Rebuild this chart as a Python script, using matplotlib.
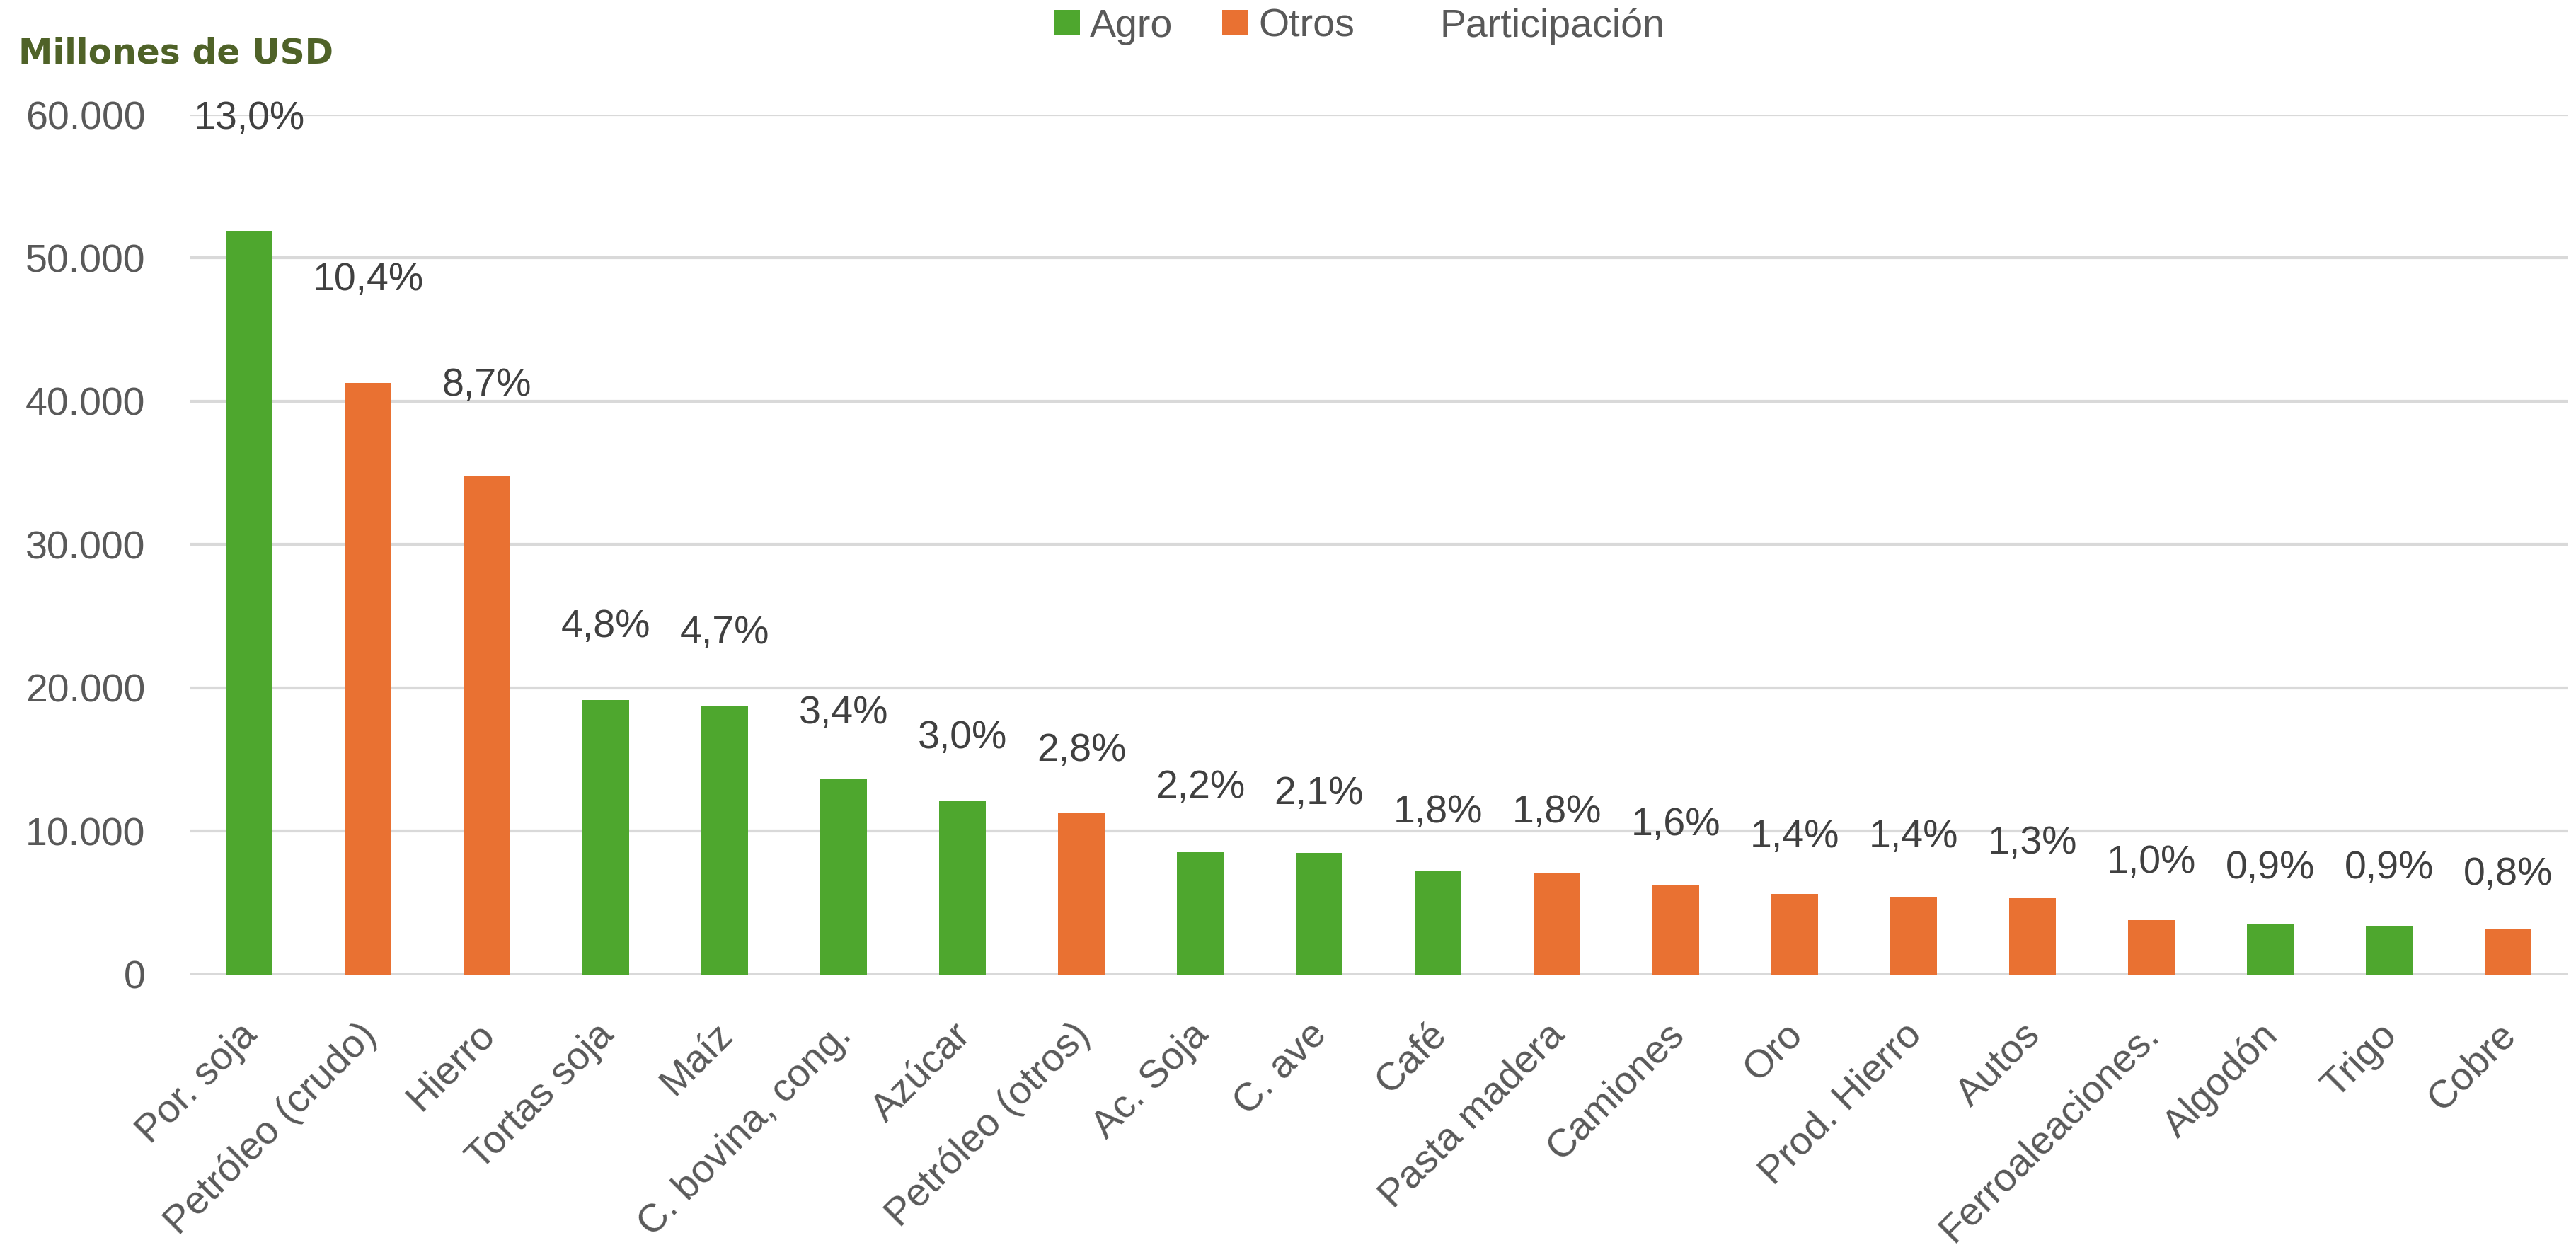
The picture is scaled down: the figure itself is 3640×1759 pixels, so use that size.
import matplotlib
matplotlib.use("Agg")
import matplotlib.pyplot as plt
import matplotlib.transforms as mtransforms
from matplotlib.patches import Patch
from matplotlib.ticker import FuncFormatter, MultipleLocator

# --- Data (millones de USD) ---
productos = ['Por. soja', 'Petróleo (crudo)', 'Hierro', 'Tortas soja', 'Maíz',
             'C. bovina, cong.', 'Azúcar', 'Petróleo (otros)', 'Ac. Soja', 'C. ave',
             'Café', 'Pasta madera', 'Camiones', 'Oro', 'Prod. Hierro', 'Autos',
             'Ferroaleaciones.', 'Algodón', 'Trigo', 'Cobre']
valores = [51900, 41300, 34750, 19170, 18700, 13660, 12080, 11290, 8550, 8480,
           7230, 7130, 6290, 5640, 5410, 5340, 3780, 3510, 3410, 3180]
participacion = [13.0, 10.4, 8.7, 4.8, 4.7, 3.4, 3.0, 2.8, 2.2, 2.1,
                 1.8, 1.8, 1.6, 1.4, 1.4, 1.3, 1.0, 0.9, 0.9, 0.8]
sector = ['Agro', 'Otros', 'Otros', 'Agro', 'Agro', 'Agro', 'Agro', 'Otros', 'Agro', 'Agro',
          'Agro', 'Otros', 'Otros', 'Otros', 'Otros', 'Otros', 'Otros', 'Agro', 'Agro', 'Otros']

# --- Style ---
COLORS = {'Agro': '#4EA72E', 'Otros': '#E97132'}
GRID_COLOR = '#D9D9D9'
TICK_COLOR = '#595959'
LABEL_COLOR = '#404040'
FONT = 'Liberation Sans'
FS = 40

plt.rcParams['font.family'] = FONT

fig = plt.figure(figsize=(36.41, 17.59), dpi=100)
ax = fig.add_axes([0.0736, 0.2172, 0.9228, 0.6907])

x = range(len(productos))
ax.bar(x, valores, width=0.39, color=[COLORS[s] for s in sector], zorder=2)

ax.set_xlim(-0.5, len(productos) - 0.5)
ax.set_ylim(0, 60000)
ax.yaxis.set_major_locator(MultipleLocator(10000))
ax.yaxis.set_major_formatter(FuncFormatter(lambda v, _: f"{int(v):,}".replace(",", ".")))
ax.grid(axis='y', color=GRID_COLOR, linewidth=3, zorder=0)
ax.set_axisbelow(True)
for s in ax.spines.values():
    s.set_visible(False)

ax.tick_params(axis='y', length=0, pad=45, labelsize=FS, labelcolor=TICK_COLOR)
ax.tick_params(axis='x', length=0, pad=28, labelsize=FS, labelcolor=TICK_COLOR)
ax.set_xticks(list(x))
ax.set_xticklabels(productos, rotation=45, ha='right', va='top', rotation_mode='anchor')
# nudge the rotated labels a bit left/down like the original
shift = mtransforms.ScaledTranslation(-15 / 100, -20 / 100, fig.dpi_scale_trans)
for lbl in ax.get_xticklabels():
    lbl.set_transform(lbl.get_transform() + shift)

# --- Participación labels on a secondary (hidden) axis ---
ax2 = ax.twinx()
ax2.set_ylim(-0.81, 13.07)
ax2.set_axis_off()
for i, p in enumerate(participacion):
    ax2.text(i, p, f"{p:.1f}%".replace(".", ","), ha='center', va='center',
             fontsize=FS, color=LABEL_COLOR)

# --- Title / units ---
fig.text(26 / 3641, 1 - 75 / 1759, 'Millones de USD', fontsize=35, fontweight='bold',
         color='#4F6228', family='DejaVu Sans', ha='left', va='center')

# --- Legend ---
handles = [Patch(facecolor=COLORS['Agro'], edgecolor='none', label='Agro'),
           Patch(facecolor=COLORS['Otros'], edgecolor='none', label='Otros'),
           Patch(facecolor='none', edgecolor='none', label='Participación')]
leg = fig.legend(handles=handles, loc='center', bbox_to_anchor=(1921 / 3641, 1 - 37 / 1759),
                 ncol=3, frameon=False, fontsize=40, handlelength=0.67, handleheight=0.62,
                 handletextpad=0.25, columnspacing=1.25, borderpad=0)
for t in leg.get_texts():
    t.set_color(TICK_COLOR)

fig.savefig('out.png', dpi=100)
